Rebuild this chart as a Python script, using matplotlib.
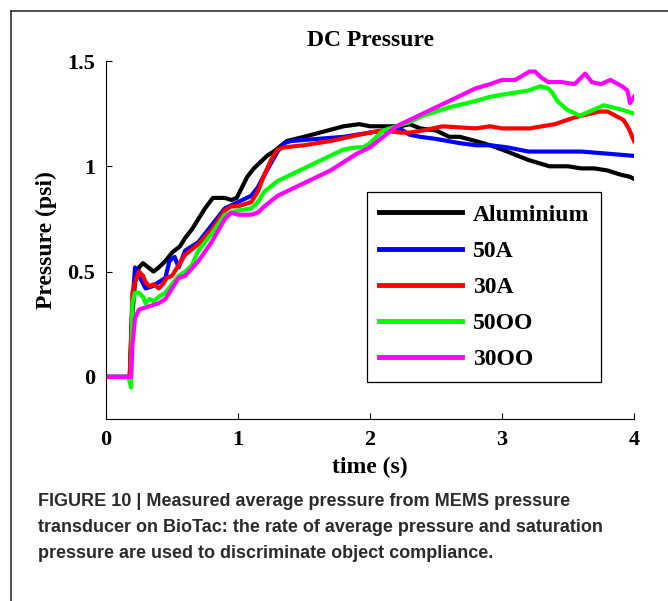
import matplotlib.pyplot as plt
from matplotlib.lines import Line2D

# Werte (Zeit in s, Druck in psi)
t_alu = [0, 0.18, 0.2, 0.22, 0.25, 0.28, 0.32, 0.36, 0.4, 0.45, 0.5, 0.56, 0.6, 0.65, 0.7,
         0.75, 0.81, 0.85, 0.9, 0.95, 0.99, 1.07, 1.12, 1.17, 1.22, 1.27, 1.37, 1.5, 1.62,
         1.8, 1.92, 2.0, 2.1, 2.23, 2.3, 2.38, 2.5, 2.6, 2.68, 2.8, 2.91, 3.04, 3.2, 3.36,
         3.5, 3.6, 3.7, 3.8, 3.9, 3.97, 4.0]
p_alu = [0, 0, 0.3, 0.45, 0.52, 0.54, 0.52, 0.5, 0.52, 0.55, 0.59, 0.62, 0.66, 0.7, 0.75,
         0.8, 0.85, 0.85, 0.85, 0.84, 0.85, 0.95, 0.99, 1.02, 1.05, 1.07, 1.12, 1.14, 1.16,
         1.19, 1.2, 1.19, 1.19, 1.19, 1.2, 1.18, 1.17, 1.14, 1.14, 1.12, 1.1, 1.07, 1.03, 1.0,
         1.0, 0.99, 0.99, 0.98, 0.96, 0.95, 0.94]

t_50a = [0, 0.18, 0.2, 0.22, 0.25, 0.3, 0.35, 0.4, 0.45, 0.48, 0.52, 0.55, 0.6, 0.7, 0.8,
         0.9, 1.0, 1.1, 1.15, 1.2, 1.3, 1.35, 1.4, 1.6, 1.8, 2.0, 2.2, 2.25, 2.3, 2.38, 2.5,
         2.68, 2.8, 2.91, 3.04, 3.2, 3.41, 3.6, 3.8, 3.99, 4.0]
p_50a = [0, 0, 0.35, 0.52, 0.48, 0.42, 0.43, 0.45, 0.47, 0.55, 0.57, 0.52, 0.6, 0.64, 0.72,
         0.8, 0.83, 0.86, 0.9, 0.96, 1.07, 1.11, 1.12, 1.13, 1.14, 1.16, 1.18, 1.17, 1.15,
         1.14, 1.13, 1.11, 1.1, 1.1, 1.09, 1.07, 1.07, 1.07, 1.06, 1.05, 1.05]

t_30a = [0, 0.18, 0.2, 0.22, 0.25, 0.28, 0.3, 0.33, 0.36, 0.4, 0.43, 0.46, 0.5, 0.55, 0.6,
         0.7, 0.8, 0.9, 0.95, 1.0, 1.1, 1.15, 1.2, 1.25, 1.3, 1.35, 1.5, 1.7, 1.92, 2.0,
         2.1, 2.23, 2.3, 2.4, 2.55, 2.8, 2.91, 3.0, 3.21, 3.4, 3.54, 3.6, 3.74, 3.8, 3.92,
         3.96, 4.0]
p_30a = [0, 0, 0.4, 0.45, 0.5, 0.48, 0.45, 0.43, 0.44, 0.42, 0.44, 0.47, 0.48, 0.53, 0.58,
         0.63, 0.7, 0.79, 0.81, 0.81, 0.83, 0.88, 0.96, 1.03, 1.08, 1.09, 1.1, 1.12, 1.15,
         1.16, 1.17, 1.16, 1.16, 1.17, 1.19, 1.18, 1.19, 1.18, 1.18, 1.2, 1.23, 1.24, 1.26,
         1.26, 1.22, 1.18, 1.12]

t_50oo = [0, 0.17, 0.19, 0.2, 0.22, 0.25, 0.28, 0.3, 0.33, 0.36, 0.4, 0.45, 0.5, 0.55, 0.6,
          0.65, 0.7, 0.8, 0.9, 1.0, 1.1, 1.15, 1.2, 1.3, 1.4, 1.5, 1.6, 1.7, 1.8, 1.9, 1.95,
          2.0, 2.05, 2.1, 2.2, 2.3, 2.4, 2.6, 2.8, 2.91, 3.0, 3.2, 3.29, 3.35, 3.38, 3.42,
          3.49, 3.59, 3.7, 3.77, 3.9, 4.0]
p_50oo = [0, 0, -0.05, 0.35, 0.4, 0.4, 0.38, 0.35, 0.37, 0.36, 0.38, 0.4, 0.44, 0.48, 0.5,
          0.53, 0.6, 0.68, 0.77, 0.79, 0.8, 0.83, 0.88, 0.93, 0.96, 0.99, 1.02, 1.05, 1.08,
          1.09, 1.09, 1.11, 1.14, 1.17, 1.19, 1.21, 1.24, 1.28, 1.31, 1.33, 1.34, 1.36, 1.38,
          1.37, 1.35, 1.31, 1.27, 1.24, 1.27, 1.29, 1.27, 1.25]

t_30oo = [0, 0.19, 0.2, 0.22, 0.25, 0.3, 0.35, 0.4, 0.45, 0.5, 0.55, 0.6, 0.7, 0.8, 0.9,
          0.95, 1.0, 1.1, 1.15, 1.2, 1.3, 1.4, 1.5, 1.6, 1.7, 1.8, 1.9, 2.0, 2.1, 2.2, 2.3,
          2.4, 2.6, 2.8, 2.91, 3.0, 3.1, 3.21, 3.25, 3.3, 3.35, 3.45, 3.55, 3.63, 3.68, 3.75,
          3.82, 3.91, 3.95, 3.97, 4.0]
p_30oo = [0, 0, 0.15, 0.28, 0.32, 0.33, 0.34, 0.35, 0.37, 0.42, 0.47, 0.48, 0.55, 0.64,
          0.75, 0.78, 0.77, 0.77, 0.78, 0.81, 0.86, 0.89, 0.92, 0.95, 0.98, 1.02, 1.06, 1.09,
          1.14, 1.19, 1.22, 1.25, 1.31, 1.37, 1.39, 1.41, 1.41, 1.45, 1.45, 1.42, 1.4, 1.4,
          1.39, 1.44, 1.4, 1.39, 1.41, 1.38, 1.36, 1.3, 1.33]

serien = [
    ('Aluminium', t_alu, p_alu, '#000000'),
    ('50A', t_50a, p_50a, '#0000ff'),
    ('30A', t_30a, p_30a, '#ff0000'),
    ('50OO', t_50oo, p_50oo, '#00ff00'),
    ('30OO', t_30oo, p_30oo, '#ff00ff'),
]

plt.rcParams['font.family'] = ['Liberation Serif', 'DejaVu Serif']
plt.rcParams['font.weight'] = 'bold'

fig = plt.figure(figsize=(6.68, 6.01), dpi=100)
ax = fig.add_axes([0.1587, 0.3028, 0.7904, 0.5957])

for name, t, p, farbe in serien:
    ax.plot(t, p, color=farbe, lw=3, label=name)

ax.set_xlim(0, 4)
ax.set_ylim(-0.2, 1.5)
ax.set_xticks([0, 1, 2, 3, 4])
ax.set_yticks([0, 0.5, 1, 1.5])
ax.set_yticklabels(['0', '0.5', '1', '1.5'])
ax.tick_params(direction='in', length=4, width=0.8, labelsize=16, pad=8)
for lbl in ax.get_xticklabels() + ax.get_yticklabels():
    lbl.set_fontweight('bold')
ax.spines['top'].set_visible(False)
ax.spines['right'].set_visible(False)
ax.spines['left'].set_linewidth(0.8)
ax.spines['bottom'].set_linewidth(0.8)

ax.set_title('DC Pressure', fontsize=17, fontweight='bold', pad=11)
ax.set_xlabel('time (s)', fontsize=17, fontweight='bold', labelpad=5)
ax.set_ylabel('Pressure (psi)', fontsize=17, fontweight='bold', labelpad=7)

leg = ax.legend(loc='lower left', bbox_to_anchor=(0.494, 0.103), borderaxespad=0,
                frameon=True, fancybox=False, edgecolor='black', framealpha=1,
                handlelength=3.55, handletextpad=0.45, labelspacing=0.62, borderpad=0.5,
                prop={'weight': 'bold', 'size': 17})
leg.get_frame().set_linewidth(0.9)
for line in leg.get_lines():
    line.set_linewidth(3.5)

# Rahmen um die Abbildung
fig.add_artist(Line2D([11 / 668, 11 / 668], [0, 1 - 10.5 / 601], color='#222222', lw=1.1))
fig.add_artist(Line2D([11 / 668, 1], [1 - 10.5 / 601, 1 - 10.5 / 601], color='#222222', lw=1.1))

caption = ['FIGURE 10 | Measured average pressure from MEMS pressure',
           'transducer on BioTac: the rate of average pressure and saturation',
           'pressure are used to discriminate object compliance.']
for i, zeile in enumerate(caption):
    fig.text(38 / 668, 1 - (502 + i * 25.5) / 601, zeile, fontsize=13, fontweight='bold',
             family=['Liberation Sans', 'DejaVu Sans'], color='#2b2b2b', va='center', ha='left')

plt.savefig('out.png', dpi=100)
